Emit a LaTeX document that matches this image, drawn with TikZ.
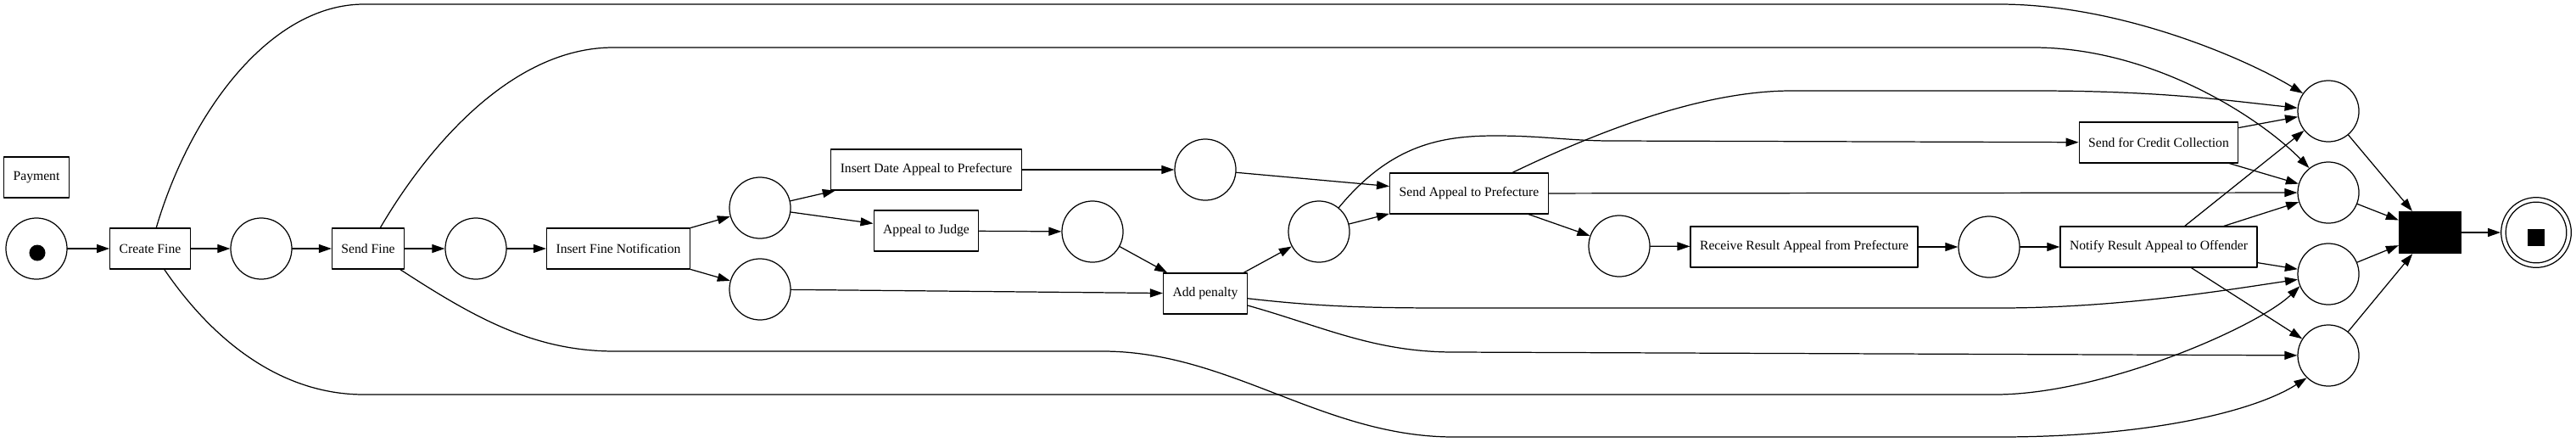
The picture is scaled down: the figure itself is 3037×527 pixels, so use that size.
\documentclass[tikz,border=0pt]{standalone}
\usepackage{fontspec}
\setmainfont{Liberation Serif}
\usetikzlibrary{arrows.meta}

\begin{document}
\begin{tikzpicture}[line cap=round,line join=round,x=0.01cm,y=-0.01cm,line width=0.35pt,
	>={Triangle[length=0.15cm,width=0.1cm]},
	every node/.style={font=\fontsize{4.45}{5.3}\selectfont,line width=0.35pt},
	trans/.style={draw,rectangle,minimum height=0.48cm,inner xsep=0.11cm,inner ysep=0pt},
	place/.style={draw,circle,minimum size=0.72cm,inner sep=0pt},
	token/.style={fill,circle,minimum size=0.19cm,inner sep=0pt},
	arc/.style={->}]

\useasboundingbox (0,0) rectangle (3037,527);

% transitions and places, left to right
\node[trans] (pay) at (43,209) {Payment};
\node[place] (start) at (43,293) {};
\node[token] (starttok) at (44,298) {};
\node[trans] (cf) at (177,293) {Create Fine};
\node[place] (p1) at (308,293) {};
\node[trans] (sf) at (434,293) {Send Fine};
\node[place] (p2) at (561,293) {};
\node[trans] (ifn) at (729,293) {Insert Fine Notification};
\node[place] (p3) at (896,245) {};
\node[place] (p4) at (896,341) {};
\node[trans] (idap) at (1092,200) {Insert Date Appeal to Prefecture};
\node[trans] (aj) at (1092,272) {Appeal to Judge};
\node[place] (p5) at (1288,273) {};
\node[place] (p6) at (1421,200) {};
\node[trans] (ap) at (1421,346) {Add penalty};
\node[place] (p7) at (1555,273) {};
\node[trans] (sap) at (1732,228) {Send Appeal to Prefecture};
\node[place] (p8) at (1909,290) {};
\node[trans] (rrap) at (2127,291) {Receive Result Appeal from Prefecture};
\node[place] (p9) at (2345,291) {};
\node[trans] (nrao) at (2545,291) {Notify Result Appeal to Offender};
\node[trans] (scc) at (2545,168) {Send for Credit Collection};
\node[place] (q1) at (2745,131) {};
\node[place] (q2) at (2745,227) {};
\node[place] (q3) at (2745,323) {};
\node[place] (q4) at (2745,419) {};
\node[draw,fill=black,minimum width=0.73cm,minimum height=0.49cm,inner sep=0pt] (tend) at (2865,274) {};
\node[place,minimum size=0.826cm] (fin) at (2990,274) {};
\draw (fin.center) circle[radius=0.358cm];
\node[fill,minimum size=0.2cm,inner sep=0pt] (fintok) at (2990,280) {};

% straight arcs
\draw[arc] (start) -- (cf);
\draw[arc] (cf) -- (p1);
\draw[arc] (p1) -- (sf);
\draw[arc] (sf) -- (p2);
\draw[arc] (p2) -- (ifn);
\draw[arc] (ifn) -- (p3);
\draw[arc] (ifn) -- (p4);
\draw[arc] (p3) -- (idap);
\draw[arc] (p3) -- (aj);
\draw[arc] (idap) -- (p6);
\draw[arc] (aj) -- (p5);
\draw[arc] (p5) -- (ap);
\draw[arc] (p4) -- (ap);
\draw[arc] (ap) -- (p7);
\draw[arc] (p6) -- (sap);
\draw[arc] (p7) -- (sap);
\draw[arc] (sap) -- (p8);
\draw[arc] (sap) -- (q2);
\draw[arc] (p8) -- (rrap);
\draw[arc] (rrap) -- (p9);
\draw[arc] (p9) -- (nrao);
\draw[arc] (scc) -- (q1);
\draw[arc] (scc) -- (q2);
\draw[arc] (nrao) -- (q1);
\draw[arc] (nrao) -- (q2);
\draw[arc] (nrao) -- (q3);
\draw[arc] (nrao) -- (q4);
\draw[arc] (q1) -- (tend);
\draw[arc] (q2) -- (tend);
\draw[arc] (q3) -- (tend);
\draw[arc] (q4) -- (tend);
\draw[arc] (tend) -- (fin);

% long curved arcs
\draw[arc] (cf) .. controls (225,130) and (320,5) .. (429,5) -- (2357,5)
	.. controls (2500,5) and (2647,69) .. (q1.145);
\draw[arc] (sf) .. controls (500,180) and (600,56) .. (723,56) -- (2397,56)
	.. controls (2540,56) and (2667,141) .. (q2.128);
\draw[arc] (cf) .. controls (250,400) and (330,465) .. (429,465) -- (2352,465)
	.. controls (2480,465) and (2662,385) .. (q3.203);
\draw[arc] (sf) .. controls (560,375) and (630,414) .. (725,414) -- (1300,414)
	.. controls (1450,414) and (1560,515) .. (1714,515) -- (2357,515)
	.. controls (2540,515) and (2661,483) .. (q4.226);
\draw[arc] (ap) .. controls (1560,362) and (1620,363) .. (1714,363) -- (2357,363)
	.. controls (2500,363) and (2630,341) .. (q3.190);
\draw[arc] (ap) .. controls (1560,385) and (1620,415) .. (1714,415) -- (q4);
\draw[arc] (sap) .. controls (1890,152) and (2010,107) .. (2112,107) -- (2400,107)
	.. controls (2550,107) and (2630,119) .. (q1.174);
\draw[arc] (p7) .. controls (1640,170) and (1700,160) .. (1763,160)
	.. controls (1820,160) and (1850,166) .. (1900,166) -- (scc);
\end{tikzpicture}
\end{document}
